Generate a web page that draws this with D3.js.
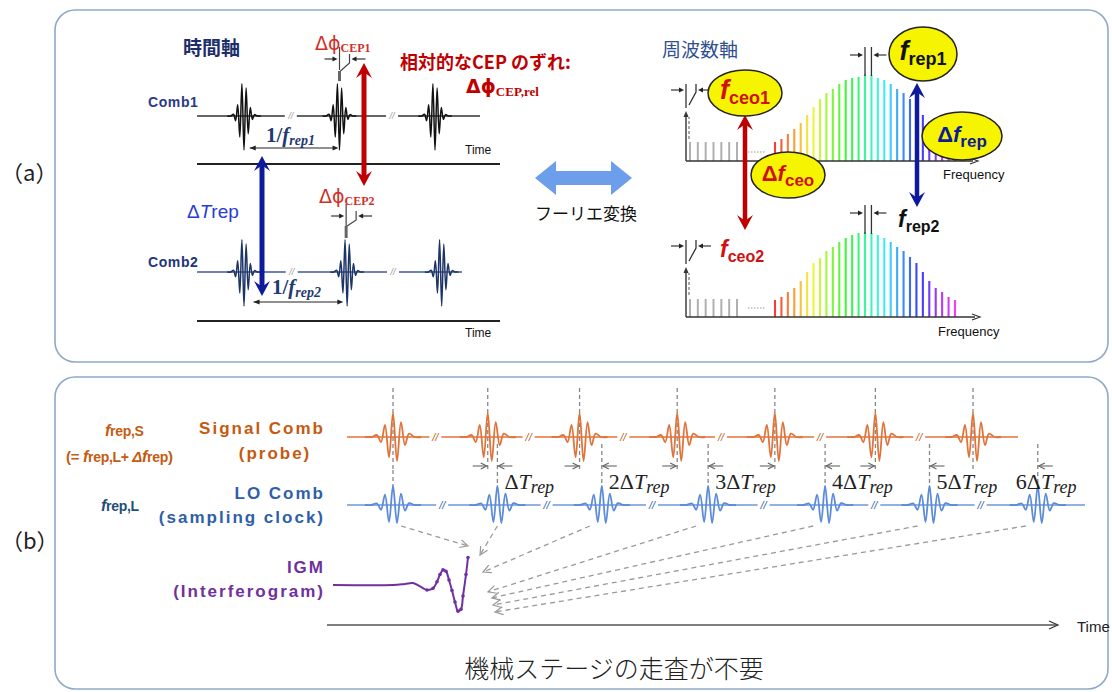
<!DOCTYPE html>
<html><head><meta charset="utf-8">
<script src="https://cdn.jsdelivr.net/npm/d3@7"></script>
<style>
html,body{margin:0;padding:0;background:#fff;}
svg{display:block;}
</style></head><body>
<svg id="fig" width="1112" height="692" font-family="Liberation Sans, Arial, sans-serif"></svg>
<script>
// ---------------- data ----------------
// (a) time domain: pulse arrival times in units of 1/f_rep1
const comb1Pulses = [0, 1, 2];
const comb2Pulses = [0, 1.08, 2.07];
// carrier half-cycle extrema of a few-cycle pulse (normalised field)
const pulseLobesA = [0.05, -0.14, 0.33, -0.62, 0.95, -1.0, 0.82, -0.52, 0.25, -0.1, 0.04];

// (a) frequency domain: comb-line intensities (a.u.)
const lowComb1 = [19, 19, 19, 19, 19, 19, 19];
const lowComb2 = [18, 18, 18, 18, 18, 18, 18];
const spectrum1 = [19, 22, 27, 32, 38, 46, 54, 62, 68, 72, 77, 81, 83, 84, 87, 86, 83, 81, 77, 72, 68, 62, 54, 46, 38, 32, 27, 22, 19];
const spectrum2 = [17, 20, 25, 29, 36, 45, 54, 59, 66, 70, 75, 79, 82, 84, 85, 84, 82, 79, 75, 70, 66, 60, 54, 45, 36, 29, 25, 20, 17];

// (b) dual-comb sampling: pulse times in units of the signal period
const signalPulses = [0, 0.98, 1.93, 2.94, 3.95, 4.99, 6.0];
const loPulses = [0, 1.08, 2.16, 3.26, 4.47, 5.55, 6.67];
const delayMultiples = [1, 2, 3, 4, 5, 6];
const signalLobes = [0.08, -0.22, 0.5, -0.85, 1.0, -1.0, 0.62, -0.34, 0.14];
const loLobes = [0.08, -0.25, 0.55, -0.9, 1.0, -0.95, 0.6, -0.3, 0.1];

// interferogram samples (time a.u., amplitude)
const igmT = [0, 60, 72, 80, 87, 94, 100, 104, 107, 110, 113, 116, 119, 122, 125, 128, 130, 133, 135];
const igmV = [0, 0, 0.04, 0.07, -0.05, -0.18, -0.12, 0.12, 0.38, 0.55, 0.5, 0.18, -0.2, -0.62, -0.95, -0.88, -0.4, 0.38, 1.0];
// where each sampled LO pulse lands next to the interferogram
const igmTargetT = [135, 147, 150, 155, 159, 160, 162];
const igmTargetV = [1.42, 1.09, 0.47, -0.25, -0.47, -0.73, -0.98];

// ---------------- helpers ----------------
const svg = d3.select("#fig");
const line = d3.line();
const CJK = "Noto Sans CJK JP";
const SERIF = "Liberation Serif, DejaVu Serif, serif";

function rich(g, x, y, parts, attrs) {
  const t = g.append("text").attr("x", x).attr("y", y);
  Object.entries(attrs || {}).forEach(([k, v]) => t.attr(k, v));
  parts.forEach(p => {
    const s = t.append("tspan").text(p.t);
    if (p.size) s.attr("font-size", p.size);
    if (p.it) s.attr("font-style", "italic");
    if (p.w) s.attr("font-weight", p.w);
    if (p.dy) s.attr("dy", p.dy);
    if (p.fam) s.attr("font-family", p.fam);
    if (p.fill) s.attr("fill", p.fill);
    if (p.dx) s.attr("dx", p.dx);
  });
  return t;
}

function head(g, tx, ty, dx, dy, len, hw, color, open) {
  const bx = tx - dx * len, by = ty - dy * len;
  const px = -dy, py = dx;
  const pts = [[bx + px * hw, by + py * hw], [tx, ty], [bx - px * hw, by - py * hw]];
  if (open) {
    g.append("path").attr("d", line(pts)).attr("fill", "none").attr("stroke", color).attr("stroke-width", 1.2);
  } else {
    g.append("path").attr("d", line(pts) + "Z").attr("fill", color);
  }
}

function arrow(g, x1, y1, x2, y2, o) {
  o = Object.assign({color: "#222", sw: 1.2, len: 6, hw: 3, open: false, dash: null, both: false}, o || {});
  const L = Math.hypot(x2 - x1, y2 - y1), dx = (x2 - x1) / L, dy = (y2 - y1) / L;
  const l = g.append("line").attr("x1", x1).attr("y1", y1).attr("x2", x2 - (o.open ? 0 : dx * o.len * 0.8)).attr("y2", y2 - (o.open ? 0 : dy * o.len * 0.8))
    .attr("stroke", o.color).attr("stroke-width", o.sw);
  if (o.dash) l.attr("stroke-dasharray", o.dash);
  head(g, x2, y2, dx, dy, o.len, o.hw, o.color, o.open);
  if (o.both) head(g, x1, y1, -dx, -dy, o.len, o.hw, o.color, o.open);
}

// thick vertical double arrow with notched heads
function bigArrow(g, x, y1, y2, color, sw, hw, hl) {
  g.append("line").attr("x1", x).attr("x2", x).attr("y1", y1 + hl * 0.6).attr("y2", y2 - hl * 0.6)
    .attr("stroke", color).attr("stroke-width", sw);
  [[y1, 1], [y2, -1]].forEach(([ty, s]) => {
    g.append("path").attr("d", line([[x, ty], [x + hw, ty + s * hl], [x, ty + s * hl * 0.62], [x - hw, ty + s * hl]]) + "Z")
      .attr("fill", color);
  });
}

function drawPulse(g, cx, cy, lobes, sp, amp, color, sw) {
  const half = (lobes.length - 1) / 2;
  const xs = d3.scaleLinear().domain([-1, 1]).range([cx - sp, cx + sp]);
  const ys = d3.scaleLinear().domain([-1, 1]).range([cy + amp, cy - amp]);
  const pts = [[xs(-(half + 3)), ys(0)], [xs(-(half + 1.4)), ys(0)]];
  lobes.forEach((v, i) => pts.push([xs(i - half), ys(v)]));
  pts.push([xs(half + 1.4), ys(0)], [xs(half + 3), ys(0)]);
  g.append("path").attr("d", d3.line().curve(d3.curveCatmullRom.alpha(0.5))(pts))
    .attr("fill", "none").attr("stroke", color).attr("stroke-width", sw).attr("stroke-linejoin", "round");
}

function breakMark(g, x, y, color, size) {
  g.append("rect").attr("x", x - 6).attr("y", y - 4).attr("width", 12).attr("height", 8).attr("fill", "#fff");
  g.append("text").attr("x", x).attr("y", y + size * 0.35).attr("text-anchor", "middle")
    .attr("font-size", size).attr("font-style", "italic").attr("fill", color).text("//");
}

// ---------------- frames ----------------
const frame = svg.append("g");
frame.append("rect").attr("x", 55).attr("y", 10).attr("width", 1053).attr("height", 352).attr("rx", 20)
  .attr("fill", "none").attr("stroke", "#8fa9c9").attr("stroke-width", 1.6);
frame.append("rect").attr("x", 55).attr("y", 377).attr("width", 1053).attr("height", 312).attr("rx", 20)
  .attr("fill", "none").attr("stroke", "#8fa9c9").attr("stroke-width", 1.6);
frame.append("text").attr("x", 1).attr("y", 181).attr("font-family", CJK).attr("font-size", 22).attr("fill", "#222").text("（a）");
frame.append("text").attr("x", 1).attr("y", 549).attr("font-family", CJK).attr("font-size", 22).attr("fill", "#222").text("（b）");

// ---------------- (a) time domain ----------------
const ta = svg.append("g");
const xA = d3.scaleLinear().domain([0, 2]).range([244, 435]);
const yComb1 = 116, yComb2 = 272;

ta.append("text").attr("x", 183).attr("y", 55).attr("font-family", CJK).attr("font-weight", 700)
  .attr("font-size", 19).attr("fill", "#1c2f6b").text("時間軸");
ta.append("text").attr("x", 148).attr("y", 107).attr("font-weight", 700).attr("font-size", 14).attr("letter-spacing", 0.6)
  .attr("fill", "#2b3a85").text("Comb1");
ta.append("text").attr("x", 148).attr("y", 267).attr("font-weight", 700).attr("font-size", 14).attr("letter-spacing", 0.6)
  .attr("fill", "#22357a").text("Comb2");

ta.append("line").attr("x1", 197).attr("x2", 480).attr("y1", yComb1).attr("y2", yComb1).attr("stroke", "#333").attr("stroke-width", 1.5);
ta.append("line").attr("x1", 197).attr("x2", 462).attr("y1", yComb2).attr("y2", yComb2).attr("stroke", "#3b5b95").attr("stroke-width", 1.3);
[0.49, 1.55].forEach(t => breakMark(ta, xA(t), yComb1, "#999", 9));
[0.5, 1.56].forEach(t => breakMark(ta, xA(t), yComb2, "#999", 9));
comb1Pulses.forEach(t => drawPulse(ta, xA(t), yComb1, pulseLobesA, 2.1, 34, "#111", 1.5));
comb2Pulses.forEach(t => drawPulse(ta, xA(t), yComb2, pulseLobesA, 2.1, 34, "#1d3466", 1.5));

// time axes
ta.append("line").attr("x1", 197).attr("x2", 500).attr("y1", 164).attr("y2", 164).attr("stroke", "#222").attr("stroke-width", 2);
ta.append("line").attr("x1", 197).attr("x2", 500).attr("y1", 321).attr("y2", 321).attr("stroke", "#222").attr("stroke-width", 2);
ta.append("text").attr("x", 465).attr("y", 154).attr("font-size", 12).attr("fill", "#111").text("Time");
ta.append("text").attr("x", 465).attr("y", 337).attr("font-size", 12).attr("fill", "#111").text("Time");

// repetition periods
arrow(ta, xA(0.06), 148, xA(0.99), 148, {both: true, len: 6, hw: 2.6, sw: 1.1});
rich(ta, 266, 142, [
  {t: "1/", w: 700}, {t: "f", it: true, w: 700}, {t: "rep1", it: true, w: 700, size: 14, dy: 3}
], {"font-family": SERIF, "font-size": 21, fill: "#1f3a70"});
arrow(ta, xA(0.1), 302, xA(1.04), 302, {both: true, len: 6, hw: 2.6, sw: 1.1});
rich(ta, 272, 294, [
  {t: "1/", w: 700}, {t: "f", it: true, w: 700}, {t: "rep2", it: true, w: 700, size: 14, dy: 3}
], {"font-family": SERIF, "font-size": 21, fill: "#1f3a70"});

// CEP markers
function cepMark(g, x, y, up) {
  g.append("line").attr("x1", x).attr("x2", x).attr("y1", y - 13).attr("y2", y + 10).attr("stroke", "#444").attr("stroke-width", 1.2);
  g.append("line").attr("x1", x).attr("x2", x).attr("y1", y + up).attr("y2", y + 21).attr("stroke", "#666").attr("stroke-width", 3);
  g.append("path").attr("d", line([[x + 1, y + up], [x + 10, y + 3], [x + 10, y - 6]])).attr("fill", "none").attr("stroke", "#444").attr("stroke-width", 1.2);
  arrow(g, x - 15, y - 1, x - 2, y - 1, {len: 5, hw: 2.5, sw: 1.1});
  arrow(g, x + 26, y - 1, x + 12, y - 1, {len: 5, hw: 2.5, sw: 1.1});
}
cepMark(ta, xA(1), 60, 11);
cepMark(ta, xA(1.08) - 1, 217, 9);
rich(ta, 315, 50, [
  {t: "Δϕ", size: 19, fam: "DejaVu Sans"}, {t: "CEP1", size: 12, w: 700, fam: SERIF, dy: 2}
], {fill: "#d0302a"});
rich(ta, 319, 203, [
  {t: "Δϕ", size: 19, fam: "DejaVu Sans"}, {t: "CEP2", size: 12, w: 700, fam: SERIF, dy: 2}
], {fill: "#d0302a"});

ta.append("text").attr("x", 400).attr("y", 69).attr("font-family", CJK).attr("font-weight", 700)
  .attr("font-size", 18).attr("fill", "#c00000").text("相対的なCEP のずれ:");
rich(ta, 466, 93, [
  {t: "Δϕ", size: 19, w: 700, fam: "DejaVu Sans"}, {t: "CEP,rel", size: 13, w: 700, fam: SERIF, dy: 3}
], {fill: "#c00000"});

bigArrow(ta, 364, 63, 186, "#c00000", 5, 8, 15);
bigArrow(ta, 262, 156, 296, "#0d1a9c", 5, 8, 15);
rich(ta, 187, 218, [
  {t: "Δ"}, {t: "T", it: true}, {t: "rep"}
], {"font-size": 19, fill: "#2a3bd0"});

// ---------------- Fourier transform arrow ----------------
const ft = svg.append("g");
ft.append("path").attr("d", line([[535, 178], [556, 161], [556, 171], [611, 171], [611, 161], [632, 178], [611, 195], [611, 185], [556, 185], [556, 195]]) + "Z")
  .attr("fill", "#6d9eeb");
ft.append("text").attr("x", 535).attr("y", 220).attr("font-family", CJK).attr("font-size", 17).attr("fill", "#111").text("フーリエ変換");

// ---------------- (a) frequency domain ----------------
const fa = svg.append("g");
fa.append("text").attr("x", 662).attr("y", 57).attr("font-family", CJK).attr("font-size", 19).attr("fill", "#2f4f8f").text("周波数軸");

const xS = d3.scaleLinear().domain([0, 28]).range([775, 955]);
const xG = d3.scaleLinear().domain([0, 6]).range([690, 737]);
const hue = d3.scaleLinear().domain([0, 28]).range([0, 300]);

function spectrum(base, lows, lines, axisEnd) {
  const y = d3.scaleLinear().domain([0, 100]).range([base, base - 100]);
  lows.forEach((v, i) => fa.append("line").attr("x1", xG(i)).attr("x2", xG(i)).attr("y1", y(0)).attr("y2", y(v))
    .attr("stroke", "#b0b0b0").attr("stroke-width", 2));
  fa.append("line").attr("x1", 748).attr("x2", 766).attr("y1", y(9)).attr("y2", y(9)).attr("stroke", "#999")
    .attr("stroke-width", 1.2).attr("stroke-dasharray", "1.5,1.5");
  lines.forEach((v, i) => fa.append("line").attr("x1", xS(i)).attr("x2", xS(i)).attr("y1", y(0)).attr("y2", y(v))
    .attr("stroke", d3.hsl(hue(i), 0.92, 0.6)).attr("stroke-width", 2.1));
  // axes
  fa.append("line").attr("x1", 686).attr("x2", 686).attr("y1", y(0)).attr("y2", y(46)).attr("stroke", "#333").attr("stroke-width", 1.4);
  head(fa, 686, y(50), 0, -1, 6, 2.5, "#333");
  fa.append("line").attr("x1", 689).attr("x2", 689).attr("y1", y(22)).attr("y2", y(44)).attr("stroke", "#555")
    .attr("stroke-width", 1).attr("stroke-dasharray", "3,2");
  fa.append("line").attr("x1", 686).attr("x2", axisEnd - 5).attr("y1", y(0)).attr("y2", y(0)).attr("stroke", "#333").attr("stroke-width", 1.6);
  head(fa, axisEnd, y(0), 1, 0, 8, 3, "#333", true);
  // f_ceo offset marker
  fa.append("line").attr("x1", 686).attr("x2", 686).attr("y1", y(53)).attr("y2", y(77)).attr("stroke", "#333").attr("stroke-width", 1.3);
  fa.append("path").attr("d", line([[689, y(56)], [696, y(69)], [696, y(77)]])).attr("fill", "none").attr("stroke", "#333").attr("stroke-width", 1.3);
  arrow(fa, 671, y(71), 684, y(71), {len: 5, hw: 2.5, sw: 1.1});
  arrow(fa, 711, y(71), 698, y(71), {len: 5, hw: 2.5, sw: 1.1});
  // f_rep spacing marker at spectrum peak
  const top = d3.max(lines);
  [14, 15].forEach(i => fa.append("line").attr("x1", xS(i)).attr("x2", xS(i)).attr("y1", y(top + 27)).attr("y2", y(top - 2))
    .attr("stroke", "#333").attr("stroke-width", 1.3));
  arrow(fa, xS(14) - 15, y(top + 19), xS(14) - 2, y(top + 19), {len: 5, hw: 2.5, sw: 1.1});
  arrow(fa, xS(15) + 15, y(top + 19), xS(15) + 2, y(top + 19), {len: 5, hw: 2.5, sw: 1.1});
  return y;
}
spectrum(161, lowComb1, spectrum1, 978);
spectrum(317, lowComb2, spectrum2, 980);
fa.append("text").attr("x", 943).attr("y", 179).attr("font-size", 13).attr("fill", "#111").text("Frequency");
fa.append("text").attr("x", 938).attr("y", 336).attr("font-size", 13).attr("fill", "#111").text("Frequency");

bigArrow(fa, 745, 115, 230, "#c00000", 4.5, 8, 15);
bigArrow(fa, 917, 83, 207, "#0d1a9c", 4.5, 8, 15);

function bubble(cx, cy, rx, ry, parts, color) {
  fa.append("ellipse").attr("cx", cx).attr("cy", cy).attr("rx", rx).attr("ry", ry)
    .attr("fill", "#f7f400").attr("stroke", "#222").attr("stroke-width", 1.5);
  rich(fa, cx, cy + 6, parts, {"text-anchor": "middle", fill: color, "font-weight": 700});
}
bubble(745, 93, 37, 23, [{t: "f", it: true, size: 27}, {t: "ceo1", size: 18, dy: 5}], "#d01010");
bubble(923, 54, 34, 27, [{t: "f", it: true, size: 27}, {t: "rep1", size: 18, dy: 5}], "#111");
bubble(962, 136, 40, 24, [{t: "Δ", size: 22}, {t: "f", it: true, size: 22}, {t: "rep", size: 17, dy: 5}], "#0d1a9c");
bubble(788, 175, 37, 23, [{t: "Δ", size: 22}, {t: "f", it: true, size: 22}, {t: "ceo", size: 17, dy: 5}], "#d01010");

rich(fa, 898, 227, [{t: "f", it: true, size: 23}, {t: "rep2", size: 16, dy: 5}], {fill: "#111", "font-weight": 700});
rich(fa, 720, 257, [{t: "f", it: true, size: 23}, {t: "ceo2", size: 16, dy: 5}], {fill: "#d01010", "font-weight": 700});

// ---------------- (b) dual-comb sampling ----------------
const pb = svg.append("g");
const xB = d3.scaleLinear().domain([0, 6]).range([393, 973]);
const ySig = 437, yLO = 505;
const orange = "#c55a11", blue = "#2e5fa8";

function label(x, y, anchor, color, txt) {
  pb.append("text").attr("x", x).attr("y", y).attr("text-anchor", anchor).attr("font-weight", 700)
    .attr("font-size", 17).attr("letter-spacing", 2).attr("fill", color).text(txt);
}
label(325, 434, "end", orange, "Signal Comb");
label(275, 459, "middle", orange, "(probe)");
label(325, 499, "end", blue, "LO Comb");
label(325, 523, "end", blue, "(sampling clock)");
label(325, 573, "end", "#7030a0", "IGM");
label(325, 597, "end", "#7030a0", "(Interferogram)");

rich(pb, 105, 436, [{t: "f", it: true, size: 16}, {t: "rep,S", size: 14}], {fill: orange, "font-weight": 700, "letter-spacing": -0.3});
rich(pb, 66, 462, [{t: "(= ", size: 15}, {t: "f", it: true, size: 16}, {t: "rep,L+ ", size: 14}, {t: "Δ", it: true, size: 15}, {t: "f", it: true, size: 16}, {t: "rep", size: 14}, {t: ")", size: 15}],
  {fill: orange, "font-weight": 700, "letter-spacing": -0.3});
rich(pb, 101, 511, [{t: "f", it: true, size: 16}, {t: "rep,L", size: 14}], {fill: "#1f4e79", "font-weight": 700, "letter-spacing": -0.3});

// comb lines
pb.append("line").attr("x1", 347).attr("x2", 1018).attr("y1", ySig).attr("y2", ySig).attr("stroke", "#e0733a").attr("stroke-width", 1.6);
pb.append("line").attr("x1", 347).attr("x2", 1085).attr("y1", yLO).attr("y2", yLO).attr("stroke", "#6c96dc").attr("stroke-width", 1.6);
d3.pairs(signalPulses).forEach(([a, b]) => breakMark(pb, xB((a + b) / 2) - 5, ySig, orange, 11));
d3.pairs(loPulses).forEach(([a, b]) => breakMark(pb, xB((a + b) / 2) - 3, yLO, blue, 11));

// dashed guides
const dashC = "#888";
signalPulses.forEach(t => pb.append("line").attr("x1", xB(t)).attr("x2", xB(t)).attr("y1", 388).attr("y2", 472)
  .attr("stroke", dashC).attr("stroke-width", 1.3).attr("stroke-dasharray", "4,3"));
loPulses.forEach((t, i) => pb.append("line").attr("x1", xB(t)).attr("x2", xB(t)).attr("y1", i === 0 ? 470 : 444).attr("y2", 492)
  .attr("stroke", dashC).attr("stroke-width", 1.3).attr("stroke-dasharray", "4,3"));

signalPulses.forEach(t => drawPulse(pb, xB(t), ySig, signalLobes, 4.0, 24, "#e0733a", 1.8));
loPulses.forEach(t => drawPulse(pb, xB(t), yLO, loLobes, 4.0, 19, "#5b8bd9", 1.8));

// growing delay between signal and LO pulses
delayMultiples.forEach(k => {
  const xs = xB(signalPulses[k]), xl = xB(loPulses[k]);
  if (k < 6) arrow(pb, xs - 15, 466, xs - 1, 466, {color: "#666", open: true, len: 6, hw: 3, sw: 1.1});
  arrow(pb, xl + 15, 466, xl + 1, 466, {color: "#666", open: true, len: 6, hw: 3, sw: 1.1});
  rich(pb, k < 6 ? xl + 7 : xl - 22, 489, [
    {t: (k > 1 ? k : "") + "Δ"}, {t: "T", it: true}, {t: "rep", it: true, size: 18, dy: 4}
  ], {"font-family": SERIF, "font-size": 22, fill: "#222"});
});

// interferogram
const xI = d3.scaleLinear().domain([0, 135]).range([333, 468]);
const yI = d3.scaleLinear().domain([-1, 1]).range([612.5, 557.5]);
const igm = igmT.map((t, i) => [xI(t), yI(igmV[i])]);

// sampling arrows from each LO pulse to the interferogram
loPulses.forEach((t, i) => {
  const sx = xB(t) + (i === 0 ? 8 : i === 1 ? 0 : -12);
  arrow(pb, sx, 526, xI(igmTargetT[i]), yI(igmTargetV[i]), {color: "#999", dash: "5,4", open: true, len: 8, hw: 4, sw: 1.3});
});

pb.append("path").attr("d", d3.line().curve(d3.curveCatmullRom.alpha(0.5))(igm))
  .attr("fill", "none").attr("stroke", "#7030a0").attr("stroke-width", 2);
pb.selectAll("circle.igm").data(igm.filter(p => p[0] >= xI(94))).join("circle").attr("class", "igm")
  .attr("cx", d => d[0]).attr("cy", d => d[1]).attr("r", 1.8).attr("fill", "#7030a0");

// time axis
pb.append("line").attr("x1", 327).attr("x2", 1057).attr("y1", 625).attr("y2", 625).attr("stroke", "#555").attr("stroke-width", 1.6);
head(pb, 1058, 625, 1, 0, 9, 4, "#333", true);
pb.append("text").attr("x", 1077).attr("y", 632).attr("font-size", 15).attr("fill", "#222").text("Time");

pb.append("text").attr("x", 614).attr("y", 678).attr("text-anchor", "middle").attr("font-family", CJK)
  .attr("font-weight", 300).attr("font-size", 25).attr("fill", "#222").text("機械ステージの走査が不要");
</script>
</body></html>
